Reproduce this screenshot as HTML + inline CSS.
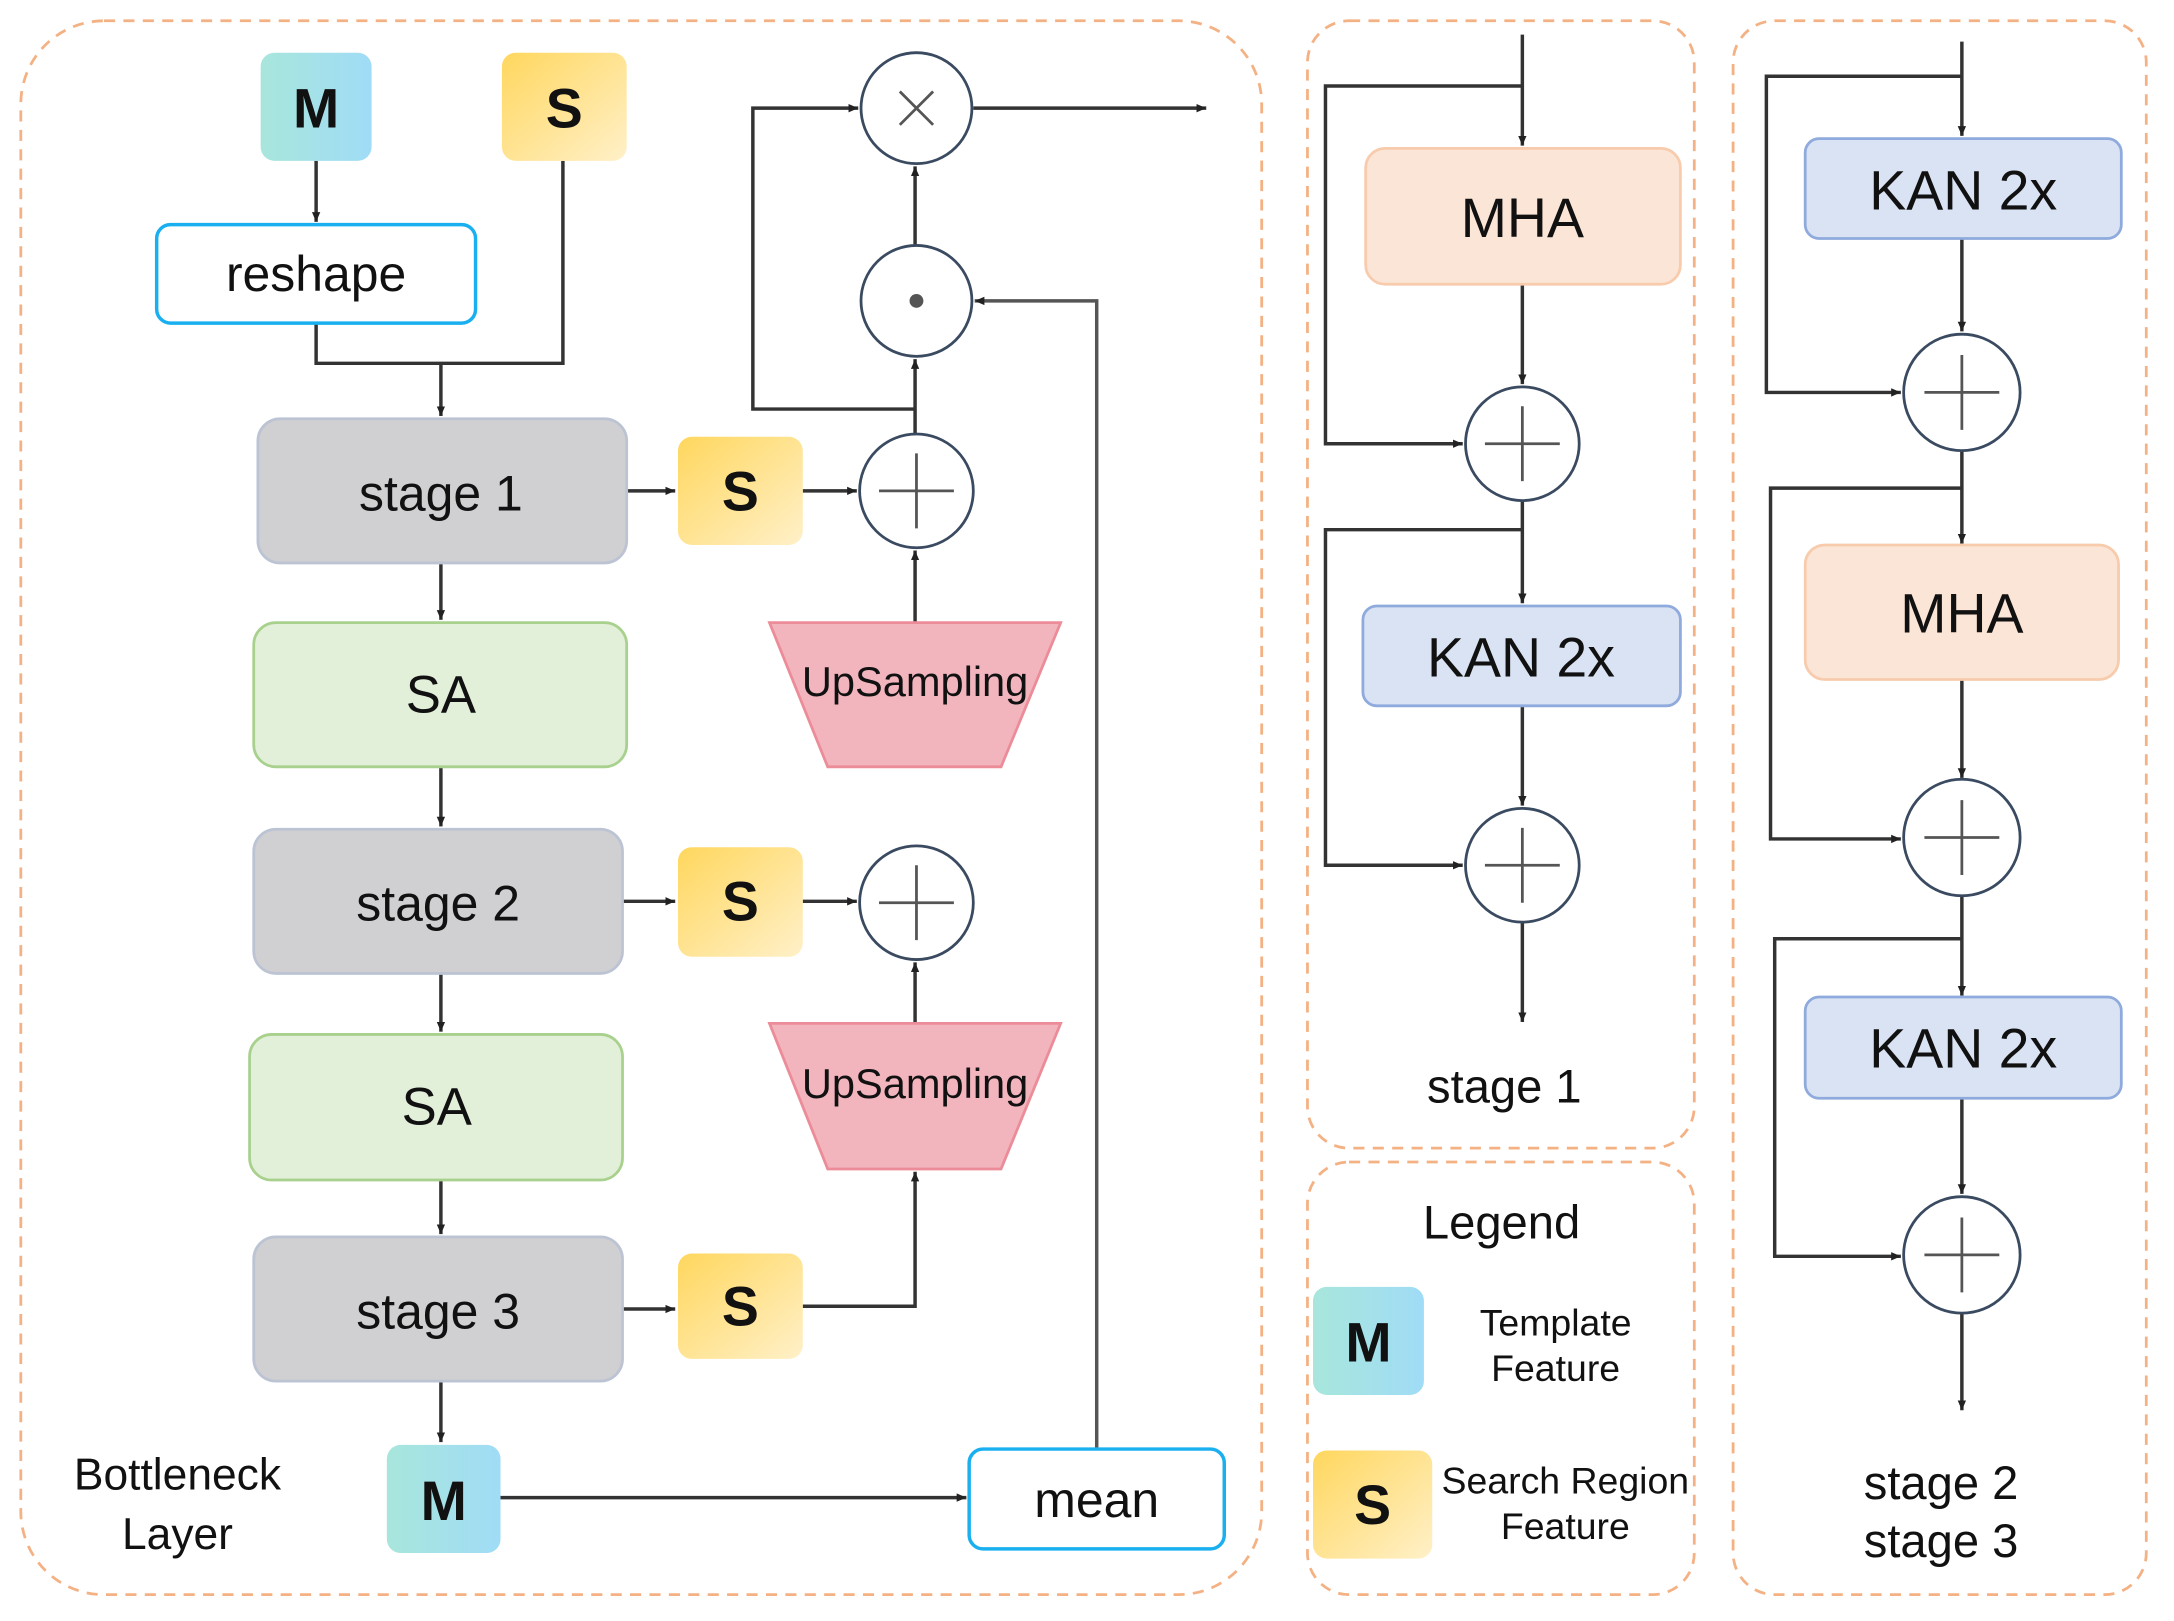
<!DOCTYPE html>
<html><head><meta charset="utf-8"><style>html,body{margin:0;padding:0;background:#fff}svg{display:block}text{font-family:"Liberation Sans",Arial,sans-serif;fill:#111}</style></head>
<body>
<svg width="2174" height="1621" viewBox="0 0 1568 1169" preserveAspectRatio="none" xmlns="http://www.w3.org/2000/svg">
<defs>
<linearGradient id="gm" x1="0" y1="0" x2="1" y2="0"><stop offset="0" stop-color="#a8e6dc"/><stop offset="1" stop-color="#a0dcf6"/></linearGradient>
<linearGradient id="gs" x1="0" y1="0" x2="1" y2="1"><stop offset="0" stop-color="#ffd75e"/><stop offset="1" stop-color="#fff0c8"/></linearGradient>
<marker id="a" markerWidth="8" markerHeight="8" refX="7" refY="4" orient="auto" markerUnits="userSpaceOnUse"><path d="M0,1 L7,4 L0,7 z" fill="#222"/></marker>
</defs>
<g fill="none" stroke="#f4b183" stroke-width="2" stroke-dasharray="8,6">
<rect x="15" y="15" width="895" height="1135" rx="60"/>
<rect x="943" y="15" width="279" height="813" rx="30"/>
<rect x="943" y="838" width="279" height="312" rx="30"/>
<rect x="1250" y="15" width="298" height="1135" rx="30"/>
</g>
<g stroke="#333" stroke-width="2.5" fill="none">
<!-- left flow -->
<path d="M228 116 V160" marker-end="url(#a)"/>
<path d="M228 233 V262 H406 V116"/>
<path d="M318 262 V300" marker-end="url(#a)"/>
<path d="M452 354 H487" marker-end="url(#a)"/>
<path d="M579 354 H618" marker-end="url(#a)"/>
<path d="M318 406 V447" marker-end="url(#a)"/>
<path d="M318 553 V596" marker-end="url(#a)"/>
<path d="M449 650 H487" marker-end="url(#a)"/>
<path d="M579 650 H618" marker-end="url(#a)"/>
<path d="M318 702 V744" marker-end="url(#a)"/>
<path d="M318 851 V890" marker-end="url(#a)"/>
<path d="M449 944 H487" marker-end="url(#a)"/>
<path d="M579 942 H660 V845" marker-end="url(#a)"/>
<path d="M318 996 V1040" marker-end="url(#a)"/>
<path d="M361 1080 H697" marker-end="url(#a)"/>
<path d="M660 738 V694" marker-end="url(#a)"/>
<path d="M660 449 V397" marker-end="url(#a)"/>
<path d="M660 313 V259" marker-end="url(#a)"/>
<path d="M660 295 H543 V78 H619" marker-end="url(#a)"/>
<path d="M660 177 V120" marker-end="url(#a)"/>
<path d="M702 78 H870" marker-end="url(#a)"/>
<path d="M791 1045 V217 H703" stroke="#555" marker-end="url(#a)"/>
<!-- right 1 -->
<path d="M1098 25 V105" marker-end="url(#a)"/>
<path d="M1098 62 H956 V320 H1055" marker-end="url(#a)"/>
<path d="M1098 205 V277" marker-end="url(#a)"/>
<path d="M1098 361 V435" marker-end="url(#a)"/>
<path d="M1098 382 H956 V624 H1055" marker-end="url(#a)"/>
<path d="M1098 509 V581" marker-end="url(#a)"/>
<path d="M1098 665 V737" marker-end="url(#a)"/>
<!-- right 2 -->
<path d="M1415 30 V98" marker-end="url(#a)"/>
<path d="M1415 55 H1274 V283 H1371" marker-end="url(#a)"/>
<path d="M1415 172 V239" marker-end="url(#a)"/>
<path d="M1415 325 V392" marker-end="url(#a)"/>
<path d="M1415 352 H1277 V605 H1371" marker-end="url(#a)"/>
<path d="M1415 490 V561" marker-end="url(#a)"/>
<path d="M1415 646 V718" marker-end="url(#a)"/>
<path d="M1415 677 H1280 V906 H1371" marker-end="url(#a)"/>
<path d="M1415 792 V861" marker-end="url(#a)"/>
<path d="M1415 947 V1017" marker-end="url(#a)"/>
</g>
<!-- boxes -->
<rect x="188" y="38" width="80" height="78" rx="10" fill="url(#gm)"/>
<text x="228" y="92" font-size="40" font-weight="bold" text-anchor="middle">M</text>
<rect x="362" y="38" width="90" height="78" rx="10" fill="url(#gs)"/>
<text x="407" y="92" font-size="40" font-weight="bold" text-anchor="middle">S</text>
<rect x="113" y="162" width="230" height="71" rx="10" fill="#fff" stroke="#1ab0f0" stroke-width="2.5"/>
<text x="228" y="210" font-size="36" text-anchor="middle">reshape</text>
<g fill="#d0cfd2" stroke="#bcc4d4" stroke-width="2">
<rect x="186" y="302" width="266" height="104" rx="16"/>
<rect x="183" y="598" width="266" height="104" rx="16"/>
<rect x="183" y="892" width="266" height="104" rx="16"/>
</g>
<text x="318" y="368" font-size="36" text-anchor="middle">stage 1</text>
<text x="316" y="664" font-size="36" text-anchor="middle">stage 2</text>
<text x="316" y="958" font-size="36" text-anchor="middle">stage 3</text>
<g fill="#e2efd9" stroke="#a9d18e" stroke-width="2">
<rect x="183" y="449" width="269" height="104" rx="16"/>
<rect x="180" y="746" width="269" height="105" rx="16"/>
</g>
<text x="318" y="514" font-size="38" text-anchor="middle">SA</text>
<text x="315" y="811" font-size="38" text-anchor="middle">SA</text>
<g fill="url(#gs)">
<rect x="489" y="315" width="90" height="78" rx="10"/>
<rect x="489" y="611" width="90" height="79" rx="10"/>
<rect x="489" y="904" width="90" height="76" rx="10"/>
</g>
<text x="534" y="368" font-size="40" font-weight="bold" text-anchor="middle">S</text>
<text x="534" y="664" font-size="40" font-weight="bold" text-anchor="middle">S</text>
<text x="534" y="956" font-size="40" font-weight="bold" text-anchor="middle">S</text>
<g fill="#f2b5be" stroke="#ec8c98" stroke-width="2">
<path d="M555 449 H765 L722 553 H597 Z"/>
<path d="M555 738 H765 L722 843 H597 Z"/>
</g>
<text x="660" y="502" font-size="30" text-anchor="middle">UpSampling</text>
<text x="660" y="792" font-size="30" text-anchor="middle">UpSampling</text>
<rect x="279" y="1042" width="82" height="78" rx="10" fill="url(#gm)"/>
<text x="320" y="1096" font-size="40" font-weight="bold" text-anchor="middle">M</text>
<rect x="699" y="1045" width="184" height="72" rx="10" fill="#fff" stroke="#1ab0f0" stroke-width="2.5"/>
<text x="791" y="1094" font-size="36" text-anchor="middle">mean</text>
<text x="128" y="1074" font-size="32" text-anchor="middle">Bottleneck</text>
<text x="128" y="1117" font-size="32" text-anchor="middle">Layer</text>
<!-- circles -->
<g fill="#fff" stroke="#3a4a60" stroke-width="2">
<circle cx="661" cy="78" r="40"/>
<circle cx="661" cy="217" r="40"/>
<circle cx="661" cy="354" r="41"/>
<circle cx="661" cy="651" r="41"/>
<circle cx="1098" cy="320" r="41"/>
<circle cx="1098" cy="624" r="41"/>
<circle cx="1415" cy="283" r="42"/>
<circle cx="1415" cy="604" r="42"/>
<circle cx="1415" cy="905" r="42"/>
</g>
<g stroke="#555" stroke-width="2">
<path d="M649 66 L673 90 M673 66 L649 90"/>
<path d="M634 354 H688 M661 327 V381"/>
<path d="M634 651 H688 M661 624 V678"/>
<path d="M1071 320 H1125 M1098 293 V347"/>
<path d="M1071 624 H1125 M1098 597 V651"/>
<path d="M1388 283 H1442 M1415 256 V310"/>
<path d="M1388 604 H1442 M1415 577 V631"/>
<path d="M1388 905 H1442 M1415 878 V932"/>
</g>
<circle cx="661" cy="217" r="5" fill="#555"/>
<!-- right panel 1 -->
<rect x="985" y="107" width="227" height="98" rx="14" fill="#fbe5d6" stroke="#f8cbad" stroke-width="2"/>
<text x="1098" y="171" font-size="40" text-anchor="middle">MHA</text>
<rect x="983" y="437" width="229" height="72" rx="10" fill="#dae3f3" stroke="#8faadc" stroke-width="2"/>
<text x="1097" y="488" font-size="40" text-anchor="middle">KAN 2x</text>
<text x="1085" y="795" font-size="34" text-anchor="middle">stage 1</text>
<!-- legend -->
<text x="1083" y="893" font-size="34" text-anchor="middle">Legend</text>
<rect x="947" y="928" width="80" height="78" rx="10" fill="url(#gm)"/>
<text x="987" y="982" font-size="40" font-weight="bold" text-anchor="middle">M</text>
<text x="1122" y="963" font-size="27" text-anchor="middle">Template</text>
<text x="1122" y="996" font-size="27" text-anchor="middle">Feature</text>
<rect x="947" y="1046" width="86" height="78" rx="10" fill="url(#gs)"/>
<text x="990" y="1099" font-size="40" font-weight="bold" text-anchor="middle">S</text>
<text x="1129" y="1077" font-size="27" text-anchor="middle">Search Region</text>
<text x="1129" y="1110" font-size="27" text-anchor="middle">Feature</text>
<!-- right panel 2 -->
<rect x="1302" y="100" width="228" height="72" rx="10" fill="#dae3f3" stroke="#8faadc" stroke-width="2"/>
<text x="1416" y="151" font-size="40" text-anchor="middle">KAN 2x</text>
<rect x="1302" y="393" width="226" height="97" rx="14" fill="#fbe5d6" stroke="#f8cbad" stroke-width="2"/>
<text x="1415" y="456" font-size="40" text-anchor="middle">MHA</text>
<rect x="1302" y="719" width="228" height="73" rx="10" fill="#dae3f3" stroke="#8faadc" stroke-width="2"/>
<text x="1416" y="770" font-size="40" text-anchor="middle">KAN 2x</text>
<text x="1400" y="1081" font-size="34" text-anchor="middle">stage 2</text>
<text x="1400" y="1123" font-size="34" text-anchor="middle">stage 3</text>
</svg>
</body></html>
